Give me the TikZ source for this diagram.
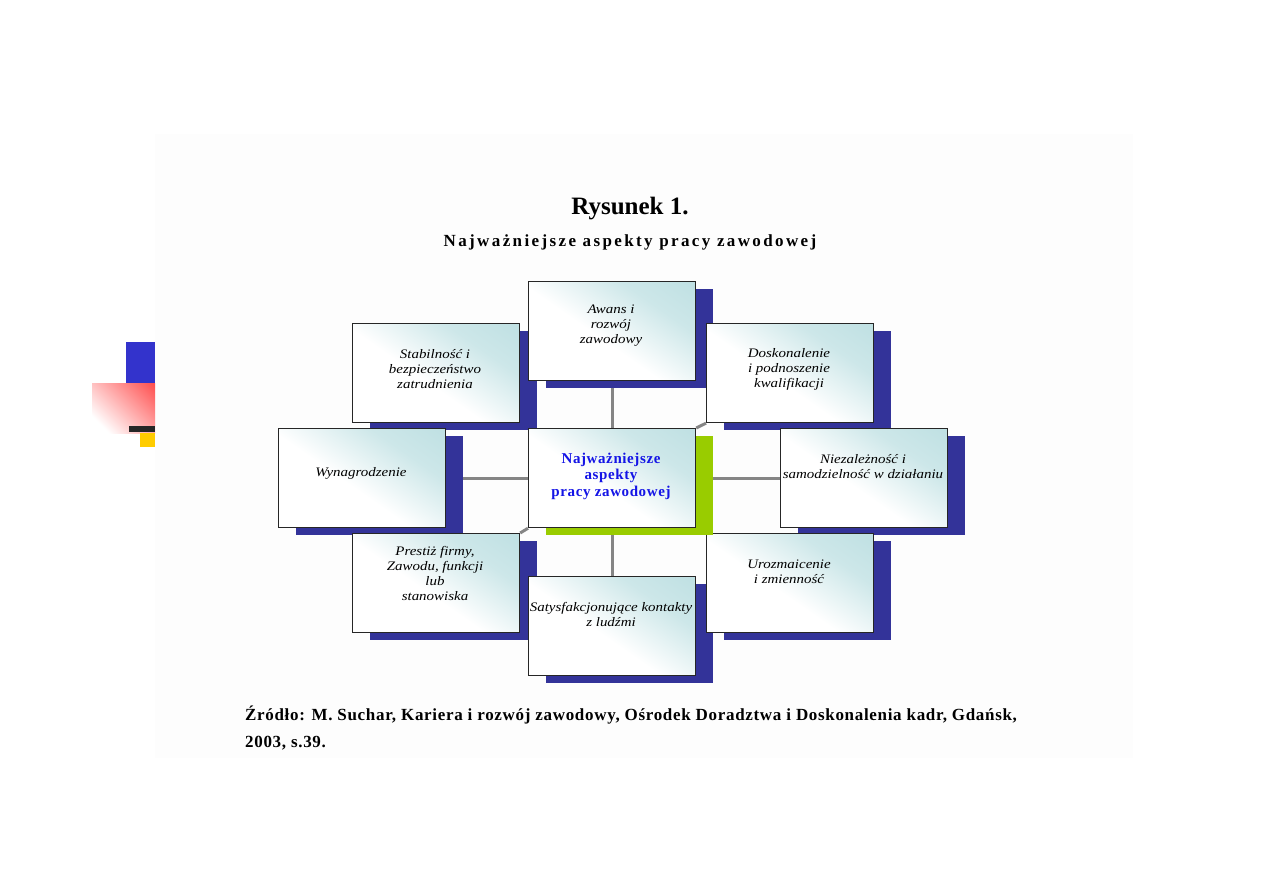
\documentclass[tikz,border=0pt]{standalone}
\usepackage{fontspec}
\setmainfont{Liberation Serif}
\newfontfamily\boxfont[FakeStretch=1.15]{Liberation Serif}
\usetikzlibrary{calc}
\definecolor{navy}{HTML}{333399}
\definecolor{lime}{HTML}{99CC00}
\definecolor{conn}{HTML}{858585}
\definecolor{tealc}{HTML}{B2DADD}
\definecolor{bgc}{HTML}{FDFDFD}
\definecolor{decblue}{HTML}{3333CC}
\definecolor{decred}{HTML}{FF2222}
\definecolor{decyel}{HTML}{FFCC00}
\definecolor{ctext}{HTML}{1414E6}
\pgfdeclareverticalshading{boxshade}{100bp}{color(0bp)=(white); color(45bp)=(white); color(68bp)=(tealc!65!white); color(100bp)=(tealc)}
\pgfdeclareverticalshading{redshade}{100bp}{color(0bp)=(white); color(25bp)=(white); color(100bp)=(decred)}
\pgfdeclarelayer{bg}
\pgfdeclarelayer{connlayer}
\pgfsetlayers{bg,connlayer,main}
\tikzset{
  aspbox/.style={draw=black!85, line width=1.2pt, shading=boxshade, shading angle=-35,
    minimum width=167pt, minimum height=99pt, inner sep=0pt, anchor=north west},
  boxtext/.style={align=center, font=\boxfont\fontsize{13}{15}\selectfont\itshape, inner sep=0pt},
  connector/.style={draw=conn, line width=3pt},
  srctext/.style={font=\fontsize{17}{20}\selectfont\bfseries\addfontfeatures{LetterSpace=4}, anchor=base west, inner sep=0pt},
}
\newcommand{\aspshadow}[3]{\fill[#3] (#1+18,#2+8) rectangle (#1+185,#2+107);}
\begin{document}
\begin{tikzpicture}[x=1pt,y=-1pt]
\useasboundingbox (0,0) rectangle (1263,893);
\begin{pgfonlayer}{bg}
\fill[white] (0,0) rectangle (1263,893);
\fill[bgc] (155,134) rectangle (1133,758);
% left decoration
\fill[decblue] (126,342) rectangle (155,383);
\shade[shading=redshade, shading angle=-45] (92,383) rectangle (155,433);
\fill[black!85] (129,426) rectangle (155,432);
\fill[decyel] (140,433) rectangle (155,447);
\end{pgfonlayer}
% titles
\node[font=\fontsize{25}{28}\selectfont\bfseries, anchor=base] (title) at (630,215) {Rysunek 1.};
\node[font=\fontsize{17}{20}\selectfont\bfseries\addfontfeatures{LetterSpace=14}, anchor=base] (subtitle) at (630,247) {Najważniejsze aspekty pracy zawodowej};
% boxes
\aspshadow{352}{323}{navy}
\node[aspbox] (stab) at (352,323) {};
\node[boxtext] (stabt) at (435,369) {Stabilność i\\bezpieczeństwo\\zatrudnienia};
\aspshadow{528}{281}{navy}
\node[aspbox] (awans) at (528,281) {};
\node[boxtext] (awanst) at (611,326) {Awans i\\rozwój\\zawodowy};
\aspshadow{706}{323}{navy}
\node[aspbox] (dosk) at (706,323) {};
\node[boxtext] (doskt) at (789,369) {Doskonalenie\\i podnoszenie\\kwalifikacji};
\aspshadow{278}{428}{navy}
\node[aspbox] (wyn) at (278,428) {};
\node[boxtext] (wynt) at (361,473) {Wynagrodzenie};
\aspshadow{780}{428}{navy}
\node[aspbox] (niez) at (780,428) {};
\node[boxtext] (niezt) at (863,467) {Niezależność i\\samodzielność w działaniu};
\aspshadow{352}{533}{navy}
\node[aspbox] (pres) at (352,533) {};
\node[boxtext] (prest) at (435,573) {Prestiż firmy,\\Zawodu, funkcji\\lub\\stanowiska};
\aspshadow{528}{576}{navy}
\node[aspbox] (sat) at (528,576) {};
\node[boxtext] (satt) at (611,614) {Satysfakcjonujące kontakty\\z ludźmi};
\aspshadow{706}{533}{navy}
\node[aspbox] (uroz) at (706,533) {};
\node[boxtext] (urozt) at (789,572) {Urozmaicenie\\i zmienność};
\aspshadow{528}{428}{lime}
\node[aspbox] (c) at (528,428) {};
\node[align=center, font=\fontsize{15}{16.5}\selectfont\bfseries\addfontfeatures{LetterSpace=4}, text=ctext, inner sep=0pt] (ct) at (611,476) {Najważniejsze\\aspekty\\pracy zawodowej};
% connectors (behind)
\begin{pgfonlayer}{connlayer}
\draw[connector] (c.north) -- (awans.south);
\draw[connector] (c.south) -- (sat.north);
\draw[connector] (c.west) -- (wyn.east);
\draw[connector] (c.east) -- (niez.west);
\draw[connector] (c.north west) -- (stab.south east);
\draw[connector] (c.north east) -- (dosk.south west);
\draw[connector] (c.south west) -- (pres.north east);
\draw[connector] (c.south east) -- (uroz.north west);
\end{pgfonlayer}
% source
\node[srctext] (src1) at (245,720) {Źródło: M. Suchar, Kariera i rozwój zawodowy, Ośrodek Doradztwa i Doskonalenia kadr, Gdańsk,};
\node[srctext] (src2) at (245,747) {2003, s.39.};
\end{tikzpicture}
\end{document}
